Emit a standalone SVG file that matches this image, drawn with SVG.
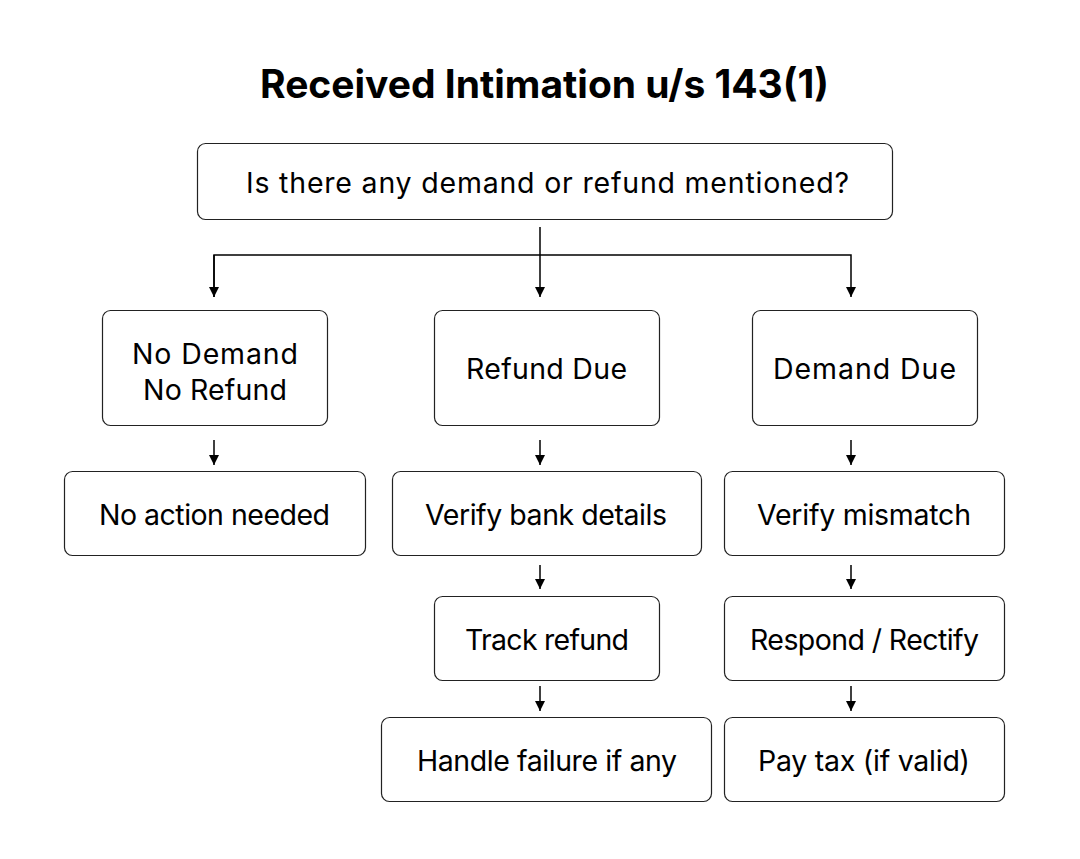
<svg xmlns="http://www.w3.org/2000/svg" width="1080" height="859" viewBox="0 0 1080 859">
<style>
.box{fill:#fff;stroke:#222;stroke-width:1.2}
.t{font-family:Inter,"Noto Sans","Liberation Sans",sans-serif;font-size:28.5px;fill:#000;text-anchor:middle;dominant-baseline:central}
.title{font-family:Inter,"Noto Sans","Liberation Sans",sans-serif;font-size:39px;font-weight:bold;fill:#000;text-anchor:middle}
.c{fill:none;stroke:#000;stroke-width:1.5}
</style>
<defs>
<marker id="ah" viewBox="0 0 10 10" refX="10" refY="5" markerWidth="10" markerHeight="10" markerUnits="userSpaceOnUse" orient="auto">
<path d="M0,0 L10,5 L0,10 z" fill="#000"/>
</marker>
</defs>
<rect width="1080" height="859" fill="#fff"/>
<text class="title" x="544.5" y="98" textLength="569">Received Intimation u/s 143(1)</text>
<g id="connectors">
<path class="c" d="M540,227 V297" marker-end="url(#ah)"/>
<path class="c" d="M214,297 V255 H851 V297" marker-end="url(#ah)"/>
<path class="c" d="M214,255 V297" marker-end="url(#ah)"/>
<path class="c" d="M214,440 V465" marker-end="url(#ah)"/>
<path class="c" d="M540,440 V465" marker-end="url(#ah)"/>
<path class="c" d="M851,440 V465" marker-end="url(#ah)"/>
<path class="c" d="M540,565 V589" marker-end="url(#ah)"/>
<path class="c" d="M851,565 V589" marker-end="url(#ah)"/>
<path class="c" d="M540,686 V711" marker-end="url(#ah)"/>
<path class="c" d="M851,686 V711" marker-end="url(#ah)"/>
</g>
<g id="q"><rect class="box" x="197.5" y="143.5" width="695" height="76" rx="8"/><text class="t" x="547.5" y="182" textLength="603">Is there any demand or refund mentioned?</text></g>
<g id="nodemand"><rect class="box" x="102.5" y="310.5" width="225" height="115" rx="8"/><text class="t" x="215" y="353" textLength="166">No Demand</text><text class="t" x="215" y="389" textLength="144">No Refund</text></g>
<g id="refund"><rect class="box" x="434.5" y="310.5" width="225" height="115" rx="8"/><text class="t" x="546.5" y="368" textLength="161">Refund Due</text></g>
<g id="demand"><rect class="box" x="752.5" y="310.5" width="225" height="115" rx="8"/><text class="t" x="864.5" y="368" textLength="183">Demand Due</text></g>
<g id="noaction"><rect class="box" x="64.5" y="471.5" width="301" height="84" rx="8"/><text class="t" x="214.5" y="514" textLength="231">No action needed</text></g>
<g id="verifybank"><rect class="box" x="392.5" y="471.5" width="309" height="84" rx="8"/><text class="t" x="546" y="514" textLength="242">Verify bank details</text></g>
<g id="verifymismatch"><rect class="box" x="724.5" y="471.5" width="280" height="84" rx="8"/><text class="t" x="864" y="514" textLength="214">Verify mismatch</text></g>
<g id="track"><rect class="box" x="434.5" y="596.5" width="225" height="84" rx="8"/><text class="t" x="547" y="639" textLength="164">Track refund</text></g>
<g id="respond"><rect class="box" x="724.5" y="596.5" width="280" height="84" rx="8"/><text class="t" x="864.5" y="639" textLength="229">Respond / Rectify</text></g>
<g id="handle"><rect class="box" x="381.5" y="717.5" width="330" height="84" rx="8"/><text class="t" x="547" y="760" textLength="260">Handle failure if any</text></g>
<g id="paytax"><rect class="box" x="724.5" y="717.5" width="280" height="84" rx="8"/><text class="t" x="864" y="760" textLength="212">Pay tax (if valid)</text></g>
</svg>
